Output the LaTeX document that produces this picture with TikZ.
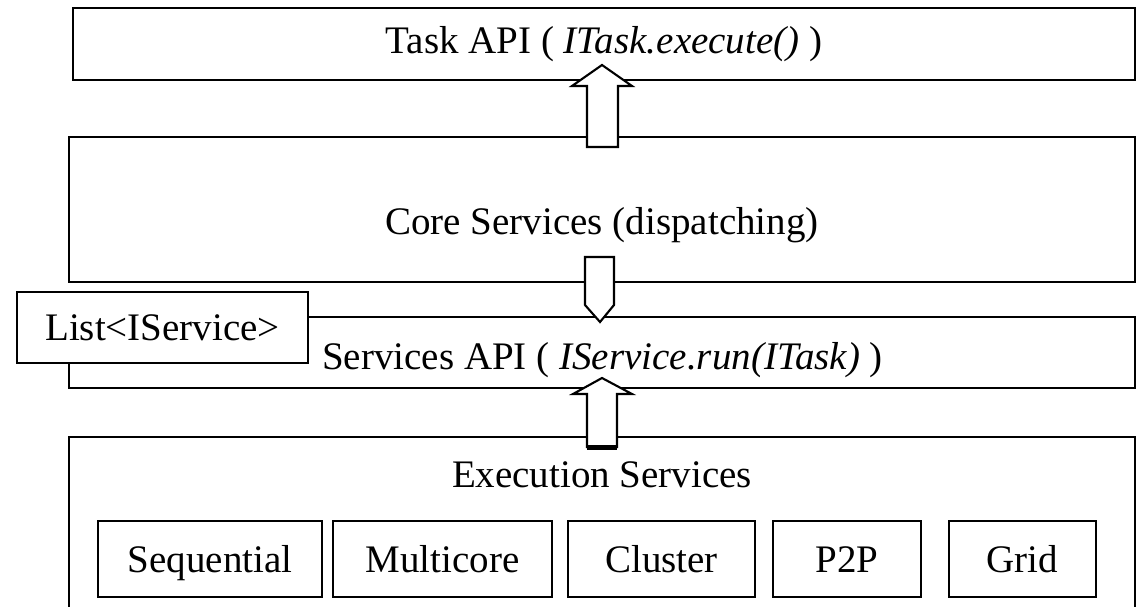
\documentclass[tikz,border=0pt]{standalone}
\usepackage{fontspec}
\setmainfont{Liberation Serif}
\begin{document}
\begin{tikzpicture}[x=1pt,y=1pt,
  bigbox/.style={draw=black,line width=2.6pt,fill=white,inner sep=0pt,outer sep=0pt},
  smallbox/.style={draw=black,line width=2pt,fill=white,inner sep=0pt,outer sep=0pt,
    font=\fontsize{39}{44}\selectfont,text height=27pt,text depth=1pt},
  lbl/.style={inner sep=0pt,font=\fontsize{39}{44}\selectfont},
  blockarrow/.style={draw=black,line width=2.1pt,fill=white,line join=miter}]
\useasboundingbox (0,0) rectangle (1137,-607);
% main layers
\node[bigbox,minimum width=1062,minimum height=72,font=\fontsize{39}{44}\selectfont] (task) at (604,-44) {Task API ( \textit{ITask.execute()} )};
\node[bigbox,minimum width=1066,minimum height=145] (core) at (602,-209.5) {};
\node[lbl] (coret) at (602,-225) {Core Services (dispatching)};
\node[bigbox,line width=2.2pt,minimum width=1066,minimum height=71] (serv) at (602,-352.5) {};
\node[lbl,anchor=west] (servt) at (322,-360) {Services API ( \textit{IService.run(ITask)} )};
\node[bigbox,line width=2.2pt,minimum width=1066,minimum height=203] (exec) at (602,-538.5) {};
\node[lbl] (exect) at (602,-475) {Execution Services};
\node[smallbox,minimum width=291,minimum height=71] (list) at (162.5,-327.5) {List<IService>};
% execution services
\node[smallbox,minimum width=224,minimum height=76] (seq) at (210,-559) {Sequential};
\node[smallbox,minimum width=219,minimum height=76] (multi) at (442.5,-559) {Multicore};
\node[smallbox,minimum width=187,minimum height=76] (clus) at (661.5,-559) {Cluster};
\node[smallbox,minimum width=148,minimum height=76] (p2p) at (847,-559) {P2P};
\node[smallbox,minimum width=147,minimum height=76] (grid) at (1022.5,-559) {Grid};
% block arrows
\draw[blockarrow] (587,-147) -- (587,-86) -- (572,-86) -- (602,-65) -- (632,-86) -- (618,-86) -- (618,-147) -- cycle;
\draw[blockarrow] (585,-257) -- (614,-257) -- (614,-305) -- (600,-322) -- (585,-305) -- cycle;
\draw[blockarrow] (587,-447) -- (587,-394) -- (573,-394) -- (602,-378) -- (632,-394) -- (617,-394) -- (617,-447) -- cycle;
\draw[line width=5pt] (587,-447) -- (617,-447);
\end{tikzpicture}
\end{document}
